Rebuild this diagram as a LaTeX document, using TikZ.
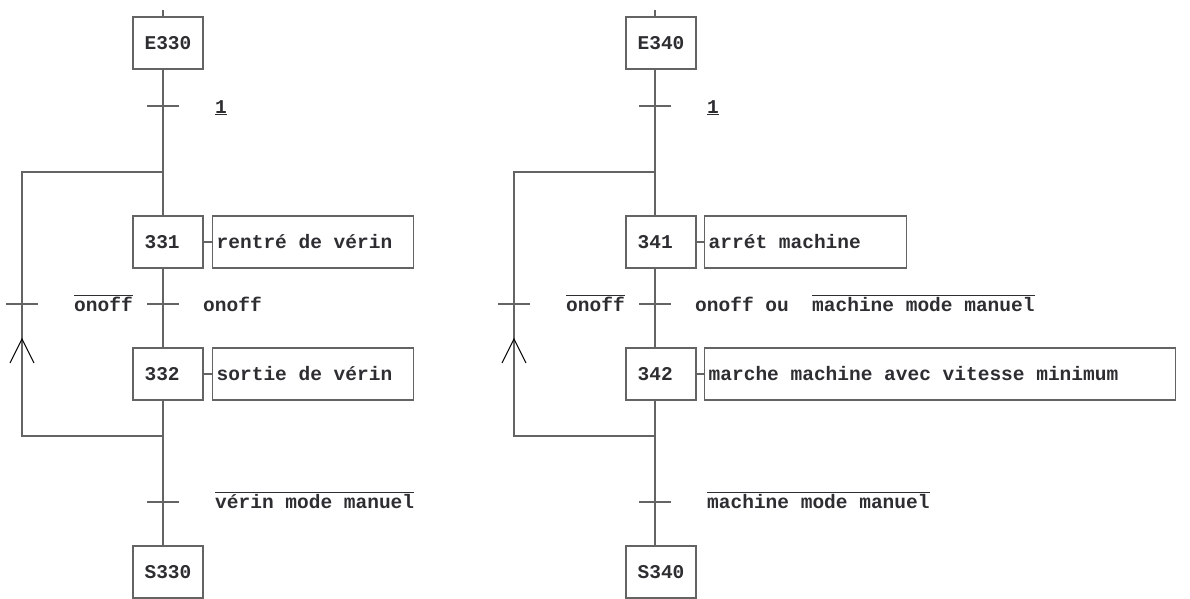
\documentclass[tikz,border=0pt]{standalone}
\usepackage{fontspec}
\setmonofont{Liberation Mono}
\usetikzlibrary{positioning}
\definecolor{traitgris}{RGB}{100,100,100}
\definecolor{textenoir}{RGB}{45,45,50}
\newcommand{\barre}[1]{$\overline{\mbox{#1}}$}

\begin{document}
\begin{tikzpicture}[x=1pt,y=-1pt,
  every node/.style={font=\ttfamily\bfseries\fontsize{19.5}{22}\selectfont, text=textenoir},
  etape/.style={draw=traitgris, line width=1.4pt, minimum width=70pt, minimum height=52pt, inner sep=0pt},
  action/.style={draw=traitgris, line width=1.4pt, minimum height=52pt, inner xsep=4pt, inner ysep=0pt, align=left, anchor=west,
    execute at begin node={\spaceskip=0pt\xspaceskip=0pt\relax}},
  lien/.style={draw=traitgris, line width=1.4pt},
  fleche/.style={draw=black, line width=1pt},
  recept/.style={anchor=base west, inner sep=0pt}]
\useasboundingbox (0,0) rectangle (1190,598);
%--- grafcet 330 ---
\node[etape] (E330) at (168,43) {E330};
\node[etape] (e331) at (168,242) {331\phantom{0}};
\node[etape] (e332) at (168,374) {332\phantom{0}};
\node[etape] (S330) at (168,572) {S330};
% actions
\node[action, text width=193pt] (a331) at (212,242) {rentré de vérin};
\node[action, text width=193pt] (a332) at (212,374) {sortie de vérin};
\draw[lien] (e331.east) -- (a331.west);
\draw[lien] (e332.east) -- (a332.west);
% liaisons
\coordinate (t1) at (163,106);
\coordinate (t2) at (163,304);
\coordinate (t3) at (163,502);
\coordinate (j1) at (163,172);
\coordinate (j2) at (163,436);
\coordinate (b1) at (22,172);
\coordinate (b2) at (22,436);
\coordinate (t4) at (22,304);
\coordinate (fl1) at (22,339);
\draw[lien] ([xshift=-5pt]E330.north) -- ++(0,-6);
\draw[lien] ([xshift=-5pt]E330.south) -- (j1) -- ([xshift=-5pt]e331.north);
\draw[lien] ([xshift=-5pt]e331.south) -- ([xshift=-5pt]e332.north);
\draw[lien] ([xshift=-5pt]e332.south) -- (j2) -- ([xshift=-5pt]S330.north);
\draw[lien] (j1) -- (b1) -- (b2) -- (j2);
% transitions
\foreach \t in {t1,t2,t3,t4}
  \draw[lien] ([xshift=-16pt]\t) -- ([xshift=16pt]\t);
\draw[fleche] ([shift={(-12,24)}]fl1) -- (fl1) -- ([shift={(12,24)}]fl1);
% receptivites
\node[recept] (r1) at (215,113) {\underline{1}};
\node[recept] (r2) at (203,311) {onoff};
\node[recept] (r3) at (215,508) {\barre{vérin mode manuel}};
\node[recept] (r4) at (74,311) {\barre{onoff}};
%--- grafcet 340 ---
\node[etape] (E340) at (661,43) {E340};
\node[etape] (e341) at (661,242) {341\phantom{0}};
\node[etape] (e342) at (661,374) {342\phantom{0}};
\node[etape] (S340) at (661,572) {S340};
% actions
\node[action, text width=194pt] (a341) at (704,242) {arrét machine};
\node[action, text width=463pt] (a342) at (704,374) {marche machine avec vitesse minimum};
\draw[lien] (e341.east) -- (a341.west);
\draw[lien] (e342.east) -- (a342.west);
% liaisons
\coordinate (u1) at (655,106);
\coordinate (u2) at (655,304);
\coordinate (u3) at (655,502);
\coordinate (k1) at (655,172);
\coordinate (k2) at (655,436);
\coordinate (c1) at (514,172);
\coordinate (c2) at (514,436);
\coordinate (u4) at (514,304);
\coordinate (fl2) at (514,339);
\draw[lien] ([xshift=-6pt]E340.north) -- ++(0,-6);
\draw[lien] ([xshift=-6pt]E340.south) -- (k1) -- ([xshift=-6pt]e341.north);
\draw[lien] ([xshift=-6pt]e341.south) -- ([xshift=-6pt]e342.north);
\draw[lien] ([xshift=-6pt]e342.south) -- (k2) -- ([xshift=-6pt]S340.north);
\draw[lien] (k1) -- (c1) -- (c2) -- (k2);
% transitions
\foreach \t in {u1,u2,u3,u4}
  \draw[lien] ([xshift=-16pt]\t) -- ([xshift=16pt]\t);
\draw[fleche] ([shift={(-12,24)}]fl2) -- (fl2) -- ([shift={(12,24)}]fl2);
% receptivites
\node[recept] (q1) at (707,113) {\underline{1}};
\node[recept] (q2) at (695,311) {onoff ou~~\barre{machine mode manuel}};
\node[recept] (q3) at (707,508) {\barre{machine mode manuel}};
\node[recept] (q4) at (566,311) {\barre{onoff}};
\end{tikzpicture}
\end{document}
